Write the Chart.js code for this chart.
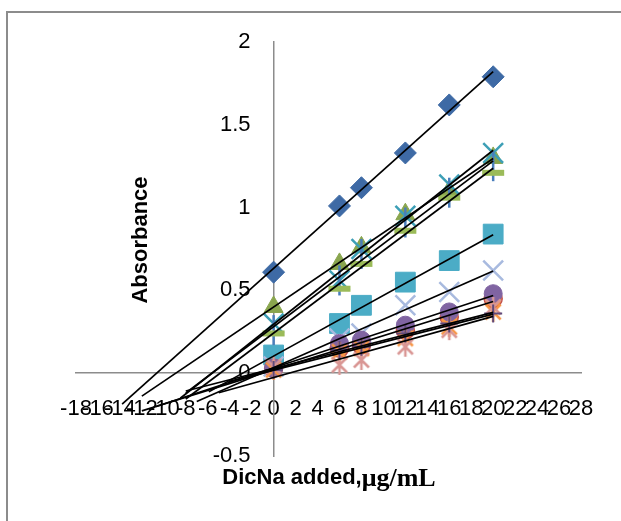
<!DOCTYPE html>
<html>
<head>
<meta charset="utf-8">
<script src="https://cdn.jsdelivr.net/npm/chart.js@4.4.1/dist/chart.umd.min.js"></script>
<style>
    html, body { margin: 0; padding: 0; background: #fff; }
    #wrap { position: relative; width: 621px; height: 521px; overflow: hidden; }
    #frame { position: absolute; left: 6px; top: 11px; width: 700px; height: 600px; border: 2px solid #8c8c8c; box-sizing: border-box; }
    #chart { position: absolute; left: 0; top: 0; }
</style>
</head>
<body>
<div id="wrap">
    <div id="frame"></div>
    <canvas id="chart" width="621" height="521"></canvas>
</div>
<script>
// DicNa added (ug/mL) for every standard-addition series
const added = [0, 6, 8, 12, 16, 20];

// absorbance readings, one array per sample
const absDiamond   = [0.61, 1.01, 1.12, 1.33, 1.62, 1.79];
const absSquare    = [0.11, 0.30, 0.41, 0.55, 0.68, 0.84];
const absTriangle  = [0.40, 0.66, 0.76, 0.96, 1.10, 1.30];
const absLavX      = [0.04, 0.21, 0.24, 0.41, 0.49, 0.62];
const absTealX     = [0.30, 0.56, 0.75, 0.95, 1.14, 1.33];
const absBlueBar   = [0.26, 0.56, 0.72, 0.91, 1.09, 1.25];
const absDash      = [0.24, 0.51, 0.66, 0.86, 1.06, 1.21];
const absOrange    = [0.03, 0.15, 0.17, 0.26, 0.34, 0.45];
const absPurple    = [0.03, 0.18, 0.20, 0.29, 0.37, 0.48];
const absOrangeStar= [0.02, 0.13, 0.15, 0.21, 0.28, 0.37];
const absPinkStar  = [0.04, 0.05, 0.08, 0.16, 0.26, 0.40];
const absPlum      = [0.02, 0.14, 0.16, 0.24, 0.30, 0.36];

// how far each trendline is forecast backward (x units)
const forecastBack = [13.8, 5.9, 12, 7, 8.5, 8, 8, 12, 10.7, 4.1, 5, 8];

const xTicks = { min: -18, max: 28, step: 2 };
const yTicks = { min: -0.5, max: 2, step: 0.5 };
// x value where the right edge of the y tick labels sits
const yLabelAt = -2.1;

// star marker: X plus a vertical stroke
function starMarker(color, size, lw) {
    const c = document.createElement('canvas');
    c.width = c.height = size;
    const g = c.getContext('2d');
    const m = size / 2, r = size / 2 - 2;
    g.strokeStyle = color;
    g.lineWidth = lw;
    g.beginPath();
    g.moveTo(m - r * 0.75, m - r * 0.75); g.lineTo(m + r * 0.75, m + r * 0.75);
    g.moveTo(m + r * 0.75, m - r * 0.75); g.lineTo(m - r * 0.75, m + r * 0.75);
    g.moveTo(m, m - r); g.lineTo(m, m + r);
    g.stroke();
    return c;
}

const series = [
    { data: absDiamond,    style: 'rectRot',  r: 11, bg: '#3e6aa5', bc: '#3e6aa5', bw: 1 },
    { data: absSquare,     style: 'rect',     r: 14, bg: '#4bacc6', bc: '#4bacc6', bw: 1 },
    { data: absTriangle,   style: 'triangle', r: 11, bg: '#89a54e', bc: '#89a54e', bw: 1 },
    { data: absLavX,       style: 'crossRot', r: 14, bg: '#a8badf', bc: '#a8badf', bw: 2.5 },
    { data: absTealX,      style: 'crossRot', r: 14, bg: '#3d9fb6', bc: '#3d9fb6', bw: 2.5 },
    { data: absBlueBar,    style: 'line',     r: 15, bg: '#4a7ebb', bc: '#4a7ebb', bw: 2.5, rot: 90 },
    { data: absDash,       style: 'line',     r: 11, bg: '#9bbb59', bc: '#9bbb59', bw: 6 },
    { data: absOrange,     style: 'circle',   r: 9,  bg: '#f79646', bc: '#c0504d', bw: 1.5 },
    { data: absPurple,     style: 'circle',   r: 9,  bg: '#8064a2', bc: '#8064a2', bw: 1 },
    { data: absOrangeStar, style: starMarker('#f79646', 24, 2.5), r: 10, bg: '#f79646', bc: '#f79646', bw: 1 },
    { data: absPinkStar,   style: starMarker('#d99694', 24, 2.5), r: 10, bg: '#d99694', bc: '#d99694', bw: 1 },
    { data: absPlum,       style: 'cross',    r: 9,  bg: '#604a7b', bc: '#604a7b', bw: 2 }
];

// least-squares fit of y on x
function linFit(xs, ys) {
    const n = xs.length;
    const mx = xs.reduce((a, b) => a + b, 0) / n;
    const my = ys.reduce((a, b) => a + b, 0) / n;
    let sxy = 0, sxx = 0;
    for (let i = 0; i < n; i++) {
        sxy += (xs[i] - mx) * (ys[i] - my);
        sxx += (xs[i] - mx) * (xs[i] - mx);
    }
    const slope = sxy / sxx;
    return { slope, icpt: my - slope * mx };
}

const datasets = [];
const xLast = added[added.length - 1];

series.forEach((s, i) => {
    datasets.push({
        data: added.map((x, k) => ({ x, y: s.data[k] })),
        showLine: false,
        pointStyle: s.style,
        pointRadius: s.r,
        pointHoverRadius: s.r,
        pointRotation: s.rot || 0,
        pointBackgroundColor: s.bg,
        pointBorderColor: s.bc,
        pointBorderWidth: s.bw,
        order: 40 - i
    });
});

// linear trendlines, drawn over the markers
series.forEach((s, i) => {
    const f = linFit(added, s.data);
    const x0 = added[0] - forecastBack[i];
    datasets.push({
        data: [
            { x: x0, y: f.icpt + f.slope * x0 },
            { x: xLast, y: f.icpt + f.slope * xLast }
        ],
        showLine: true,
        borderColor: '#000',
        borderWidth: 1.7,
        pointRadius: 0,
        pointHoverRadius: 0,
        order: 0
    });
});

const axisTitles = {
    id: 'axisTitles',
    afterDraw(chart) {
        const ctx = chart.ctx;
        ctx.save();
        ctx.fillStyle = '#000';
        ctx.textBaseline = 'middle';

        ctx.save();
        ctx.translate(141, 240);
        ctx.rotate(-Math.PI / 2);
        ctx.textAlign = 'center';
        ctx.font = 'bold 22px "Liberation Sans"';
        ctx.fillText('Absorbance', 0, 0);
        ctx.restore();

        const a = 'DicNa added,';
        const b = 'μg/mL';
        const fa = 'bold 22px "Liberation Sans"';
        const fb = 'bold 26px "Liberation Serif"';
        ctx.font = fa;
        const wa = ctx.measureText(a).width;
        ctx.font = fb;
        const wb = ctx.measureText(b).width;
        let x = 329 - (wa + wb) / 2;
        ctx.textAlign = 'left';
        ctx.font = fa;
        ctx.fillText(a, x, 478);
        ctx.font = fb;
        ctx.fillText(b, x + wa, 479);
        ctx.restore();
    }
};

const tickFont = { family: '"Liberation Sans"', size: 22 };
const plain = (v) => String(v);

new Chart(document.getElementById('chart'), {
    type: 'scatter',
    data: { datasets },
    options: {
        responsive: false,
        animation: false,
        devicePixelRatio: 1,
        layout: { padding: { left: 76, right: 40, top: 42, bottom: 65 } },
        plugins: {
            legend: { display: false },
            tooltip: { enabled: false }
        },
        scales: {
            x: {
                type: 'linear',
                position: { y: 0 },
                min: xTicks.min,
                max: xTicks.max,
                afterFit: (s) => { s.height = 0; },
                grid: { display: false, drawTicks: false },
                border: { display: true, color: '#8c8c8c', width: 1.5 },
                ticks: {
                    stepSize: xTicks.step,
                    autoSkip: false,
                    maxRotation: 0,
                    minRotation: 0,
                    padding: 23,
                    color: '#000',
                    font: tickFont,
                    callback: plain
                }
            },
            y: {
                type: 'linear',
                position: { x: 0 },
                min: yTicks.min,
                max: yTicks.max,
                afterFit: (s) => { s.width = 0; },
                grid: { display: false, drawTicks: false },
                border: { display: true, color: '#8c8c8c', width: 1.5 },
                ticks: { display: false, stepSize: yTicks.step }
            },
            // carries the y tick labels, set a little left of the y axis line
            yLabels: {
                type: 'linear',
                axis: 'y',
                position: { x: yLabelAt },
                min: yTicks.min,
                max: yTicks.max,
                afterFit: (s) => { s.width = 0; },
                grid: { display: false, drawTicks: false },
                border: { display: false },
                ticks: {
                    stepSize: yTicks.step,
                    autoSkip: false,
                    padding: 0,
                    color: '#000',
                    font: tickFont,
                    callback: plain
                }
            }
        }
    },
    plugins: [axisTitles]
});
</script>
</body>
</html>
